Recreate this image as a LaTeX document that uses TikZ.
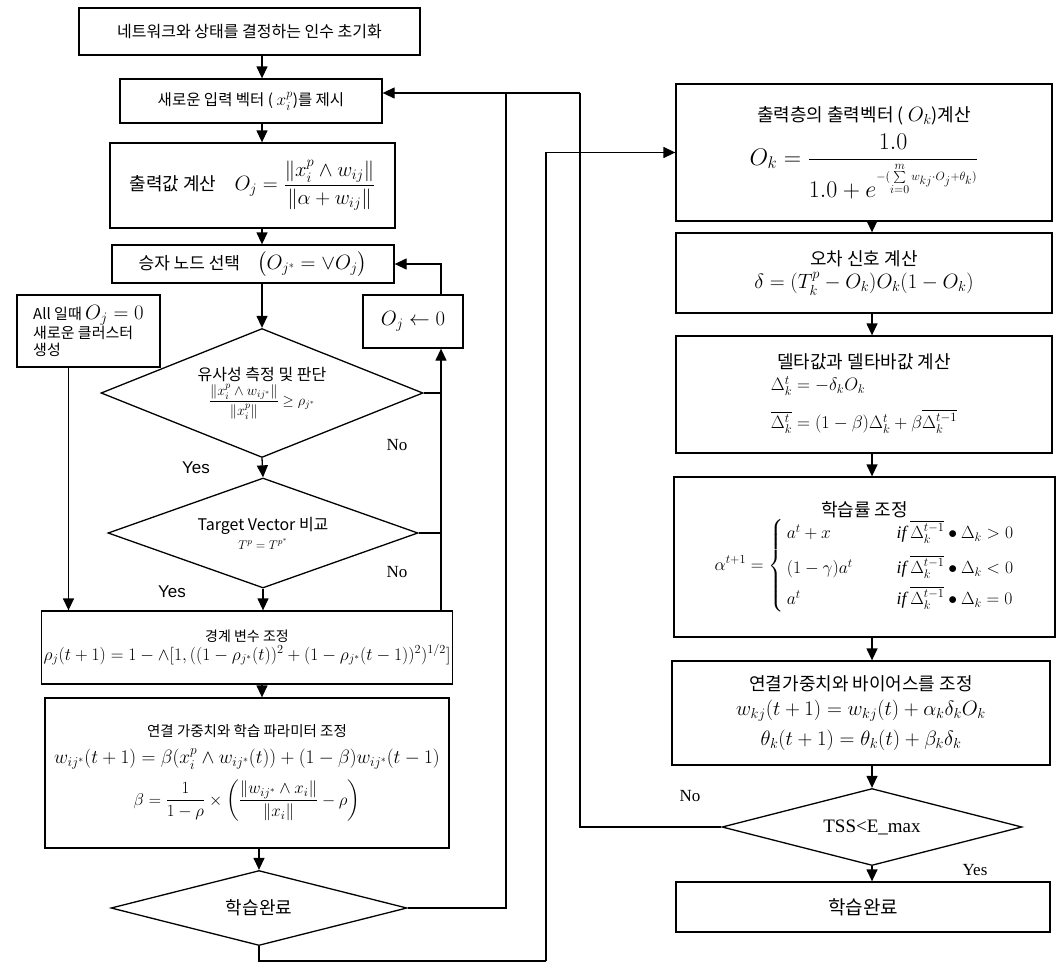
\RequirePackage{fix-cm}
\documentclass[tikz,border=0pt]{standalone}
\usepackage{amsmath}
\usepackage{fontspec}
\setmainfont{Liberation Serif}
\setsansfont{Liberation Sans}
\newfontfamily\krfont{Noto Sans CJK KR}
\usetikzlibrary{arrows.meta,shapes.geometric}

\begin{document}
\begin{tikzpicture}[
  x=1pt, y=-1pt,
  font=\krfont\fontsize{16}{19}\selectfont,
  box/.style ={draw, line width=1.3pt, align=center, inner sep=2pt},
  dec/.style ={draw, diamond, line width=1.3pt, align=center, inner sep=0pt},
  flow/.style={-{Triangle[length=12pt,width=11pt]}, line width=1.3pt},
  link/.style={line width=1.3pt},
  yn/.style  ={font=\rmfamily\fontsize{17}{19}\selectfont},
  ys/.style  ={font=\sffamily\fontsize{17}{19}\selectfont},
]
\useasboundingbox (0,0) rectangle (1059,964);

\coordinate (ax) at (262,0);
\coordinate (bx) at (872,0);
\coordinate (nx) at (441,0);
\coordinate (jn) at (580,93);
\coordinate (jl) at (506,93);
\coordinate (bot) at (546,961);

% ART part
\node[box, minimum width=341pt, minimum height=47pt] (init) at (249.5,31.5)
  {네트워크와 상태를 결정하는 인수 초기화};
\node[box, minimum width=262pt, minimum height=44pt,
      font=\krfont\fontsize{15.5}{18}\selectfont] (inp) at (251,101)
  {새로운 입력 벡터 ( {\fontsize{17.3}{18}\selectfont$x_i^p$})를 제시};
\node[box, minimum width=285pt, minimum height=85pt,
      font=\krfont\fontsize{18}{21}\selectfont] (outc) at (252.5,185.5)
  {출력값 계산\quad {\fontsize{20.7}{25}\selectfont $O_j=\dfrac{\|x_i^p\wedge w_{ij}\|}{\|\alpha+w_{ij}\|}$}};
\node[box, minimum width=282pt, minimum height=38pt,
      font=\krfont\fontsize{17}{20}\selectfont] (win) at (253,264)
  {승자 노드 선택\quad {\fontsize{20.7}{24}\selectfont $\bigl(O_{j^*}=\vee O_j\bigr)$}};
\node[box, minimum width=143pt, minimum height=72pt, align=left,
      font=\krfont\fontsize{15}{17}\selectfont] (clus) at (88.5,331)
  {All 일때 {\fontsize{20.7}{21}\selectfont $O_j=0$}\\ 새로운 클러스터\\ 생성};
\node[box, minimum width=100pt, minimum height=53pt,
      font=\fontsize{20.7}{25}\selectfont] (ojz) at (413,321.5) {$O_j\leftarrow 0$};
\node[dec, aspect=2.5, minimum width=322pt, minimum height=129pt] (sim) at (262,393)
  {유사성 측정 및 판단\\[2pt]
   {\fontsize{14.4}{16}\selectfont $\dfrac{\|x_i^p\wedge w_{ij^*}\|}{\|x_i^p\|}\ge\rho_{j^*}$}};
\node[dec, aspect=2.8, minimum width=310pt, minimum height=110pt] (tgt) at (263,533)
  {Target Vector 비교\\ {\fontsize{12.5}{15}\selectfont $T^p=T^{p^*}$}};
\node[box, minimum width=404pt, minimum height=73pt,
      font=\krfont\fontsize{14}{17}\selectfont] (brd) at (247,647.5)
  {경계 변수 조정\\[2pt]
   {\fontsize{17.6}{22}\selectfont $\rho_j(t+1)=1-\wedge[1,((1-\rho_{j^*}(t))^2+(1-\rho_{j^*}(t-1))^2)^{1/2}]$}};
\node[box, minimum width=404pt, minimum height=150pt,
      font=\krfont\fontsize{14.5}{17}\selectfont] (wgt) at (247,773)
  {연결 가중치와 학습 파라미터 조정\\[10pt]
   {\fontsize{19.3}{24}\selectfont $w_{ij^*}(t+1)=\beta(x_i^p\wedge w_{ij^*}(t))+(1-\beta)w_{ij^*}(t-1)$}\\[10pt]
   {\fontsize{17}{19}\selectfont $\beta=\dfrac{1}{1-\rho}\times\left(\dfrac{\|w_{ij^*}\wedge x_i\|}{\|x_i\|}-\rho\right)$}};
\node[dec, aspect=3.95, minimum width=296pt, minimum height=75pt,
      font=\krfont\fontsize{18}{20}\selectfont] (done) at (259,908) {학습완료};

% BP part
\node[box, minimum width=376pt, minimum height=137pt,
      font=\krfont\fontsize{18}{21}\selectfont] (outb) at (864,152.5)
  {출력층의 출력벡터 ( {\fontsize{20.7}{20}\selectfont$O_k$})계산\\[8pt]
   {\fontsize{24}{27}\selectfont $O_k=\dfrac{1.0}{1.0+e^{\scriptscriptstyle -(\sum\limits_{i=0}^{m} w_{kj}\cdot O_j+\theta_k)}}$}};
\node[box, minimum width=376pt, minimum height=80pt,
      font=\krfont\fontsize{18}{21}\selectfont] (err) at (864,273)
  {오차 신호 계산\\[2pt] {\fontsize{20.7}{24}\selectfont $\delta=(T_k^p-O_k)O_k(1-O_k)$}};
\node[box, minimum width=376pt, minimum height=117pt,
      font=\krfont\fontsize{18}{21}\selectfont] (dlt) at (864,394.5)
  {델타값과 델타바값 계산\\[4pt]
   {\fontsize{18}{23}\selectfont $\begin{array}{@{}l@{}}
     \Delta_k^t=-\delta_kO_k\\[12pt]
     \overline{\Delta_k^t}=(1-\beta)\Delta_k^t+\beta\overline{\Delta_k^{t-1}}
   \end{array}$}};
\node[box, minimum width=381pt, minimum height=160pt,
      font=\krfont\fontsize{18}{21}\selectfont] (lr) at (864.5,557)
  {학습률 조정\\
   {\fontsize{17.6}{22}\selectfont $\alpha^{t+1}=\left\{\,\begin{array}{@{}l@{\hspace{2.5em}}l@{}}
     a^t+x & \mathit{if}\ \overline{\Delta_k^{t-1}}\bullet\Delta_k>0\\[10pt]
     (1-\gamma)a^t & \mathit{if}\ \overline{\Delta_k^{t-1}}\bullet\Delta_k<0\\[6pt]
     a^t & \mathit{if}\ \overline{\Delta_k^{t-1}}\bullet\Delta_k=0
   \end{array}\right.$}};
\node[box, minimum width=378pt, minimum height=104pt,
      font=\krfont\fontsize{18}{21}\selectfont] (wb) at (861,713)
  {연결가중치와 바이어스를 조정\\[4pt]
   {\fontsize{20.7}{23}\selectfont $w_{kj}(t+1)=w_{kj}(t)+\alpha_k\delta_kO_k$}\\[8pt]
   {\fontsize{20.7}{23}\selectfont $\theta_k(t+1)=\theta_k(t)+\beta_k\delta_k$}};
\node[dec, aspect=3.9, minimum width=300pt, minimum height=77pt,
      font=\rmfamily\fontsize{19}{21}\selectfont] (tss) at (872,827) {TSS<E\_max};
\node[box, minimum width=374pt, minimum height=50pt,
      font=\krfont\fontsize{19}{21}\selectfont] (fin) at (863,907) {학습완료};

\draw[flow] (init.south -| ax) -- (inp.north -| ax);
\draw[flow] (inp.south -| ax) -- (outc.north -| ax);
\draw[flow] (outc.south -| ax) -- (win.north -| ax);
\draw[flow] (win.south -| ax) -- (sim.north);
\draw[flow] (sim.south) -- (tgt.north);
\draw[flow] (tgt.south) -- (brd.north -| tgt.south);
\draw[flow] (brd.south -| ax) -- (wgt.north -| ax);
\draw[flow] (wgt.south -| done.north) -- (done.north);
\draw[flow] ([xshift=-20pt]clus.south) -- ([xshift=-20pt]clus.south |- brd.north);

\draw[link] (sim.east) -- (sim.east -| nx);
\draw[link] (tgt.east) -- (tgt.east -| nx);
\draw[flow] (brd.north -| nx) -- (ojz.south -| nx);
\draw[flow] (ojz.north -| nx) |- (win.east);

\draw[link] (done.east) -| (jl);
\draw[link] (tss.west) -| (jn);
\draw[flow] (jn) -- (jn -| inp.east);
\draw[link] (done.south) |- (bot);
\draw[flow] (bot) |- (outb.west);

\draw[flow] (outb.south -| bx) -- (err.north -| bx);
\draw[flow] (err.south -| bx) -- (dlt.north -| bx);
\draw[flow] (dlt.south -| bx) -- (lr.north -| bx);
\draw[flow] (lr.south -| bx) -- (wb.north -| bx);
\draw[flow] (wb.south -| bx) -- (tss.north);
\draw[flow] (tss.south) -- (fin.north -| bx);

\node[ys] (y1) at (196,468) {Yes};
\node[yn] (n1) at (397,445) {No};
\node[ys] (y2) at (172,592) {Yes};
\node[yn] (n2) at (397,572) {No};
\node[yn] (n3) at (690,796) {No};
\node[yn] (y3) at (975,870) {Yes};

\end{tikzpicture}
\end{document}
